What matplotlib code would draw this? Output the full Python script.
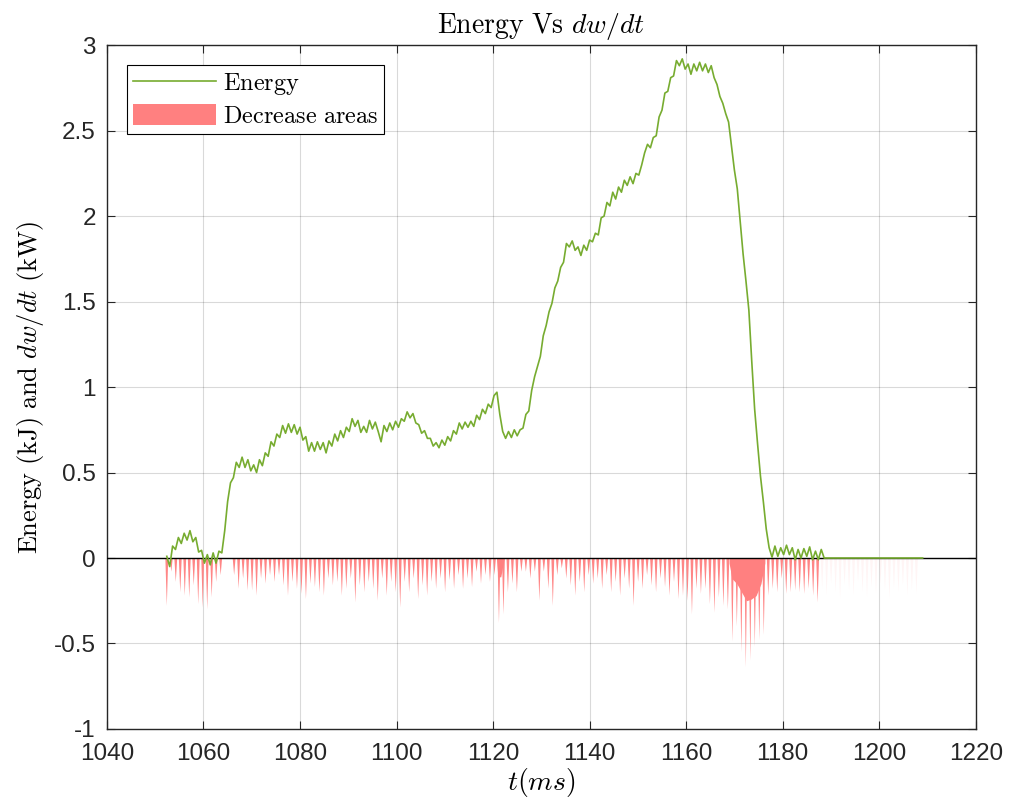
import numpy as np
import matplotlib
matplotlib.use("Agg")
import matplotlib.pyplot as plt
from matplotlib.patches import Patch
from matplotlib.lines import Line2D

# ---- energy trace (kJ), sampled every 0.6 ms from 1052.4 ms ----
energy_t0 = 1052.4
energy_dt = 0.6
energy = [
    0.01, -0.05, 0.07, 0.05, 0.12, 0.085, 0.145, 0.105, 0.16, 0.095,
    0.12, 0.035, 0.045, -0.03, 0.02, -0.04, 0.03, -0.03, 0.04, 0.03,
    0.16, 0.33, 0.44, 0.47, 0.56, 0.53, 0.59, 0.53, 0.575, 0.51,
    0.545, 0.50, 0.575, 0.54, 0.615, 0.595, 0.68, 0.655, 0.725, 0.705,
    0.775, 0.73, 0.785, 0.735, 0.78, 0.725, 0.765, 0.69, 0.71, 0.625,
    0.675, 0.625, 0.68, 0.635, 0.675, 0.615, 0.685, 0.655, 0.725, 0.685,
    0.745, 0.705, 0.765, 0.74, 0.815, 0.77, 0.805, 0.735, 0.77, 0.735,
    0.805, 0.755, 0.795, 0.74, 0.68, 0.775, 0.74, 0.79, 0.75, 0.80,
    0.765, 0.815, 0.80, 0.855, 0.82, 0.845, 0.79, 0.78, 0.73, 0.745,
    0.70, 0.70, 0.655, 0.675, 0.645, 0.69, 0.66, 0.71, 0.685, 0.745,
    0.725, 0.79, 0.755, 0.795, 0.765, 0.80, 0.77, 0.835, 0.81, 0.87,
    0.845, 0.90, 0.88, 0.95, 0.97, 0.84, 0.74, 0.70, 0.74, 0.705,
    0.75, 0.715, 0.75, 0.76, 0.84, 0.86, 0.98, 1.06, 1.12, 1.18,
    1.30, 1.36, 1.44, 1.49, 1.58, 1.62, 1.70, 1.73, 1.84, 1.82,
    1.855, 1.80, 1.82, 1.77, 1.83, 1.80, 1.86, 1.85, 1.90, 1.89,
    1.99, 2.00, 2.08, 2.06, 2.14, 2.10, 2.17, 2.14, 2.21, 2.18,
    2.23, 2.19, 2.25, 2.24, 2.30, 2.37, 2.42, 2.40, 2.46, 2.47,
    2.58, 2.62, 2.72, 2.73, 2.81, 2.82, 2.91, 2.88, 2.92, 2.86,
    2.89, 2.83, 2.89, 2.85, 2.90, 2.85, 2.89, 2.84, 2.88, 2.81,
    2.77, 2.70, 2.66, 2.60, 2.55, 2.41, 2.27, 2.16, 1.97, 1.78,
    1.62, 1.45, 1.15, 0.87, 0.67, 0.48, 0.33, 0.17, 0.06, 0.005,
    0.07, 0.01, 0.06, 0.02, 0.075, 0.02, 0.06, -0.01, 0.05, 0.00,
    0.055, 0.01, 0.065, -0.01, 0.04, -0.01, 0.05,
]
# flat tail after the energy has died out
tail_t = [1188.6, 1209.0]
tail_e = [0.0, 0.0]

# ---- negative dw/dt spikes (kW), one every 0.93 ms from 1052.4 ms ----
spike_t0 = 1052.4
spike_dt = 0.93
spike_depth = [
    -0.28, -0.08, -0.14, -0.20, -0.22, -0.23, -0.16, -0.27, -0.29, -0.30,
    -0.23, -0.14, -0.10, 0.0, 0.0, -0.10, -0.18, -0.12, -0.19, -0.19,
    -0.22, -0.12, -0.15, -0.10, -0.14, -0.10, -0.16, -0.22, -0.14, -0.18,
    -0.21, -0.24, -0.15, -0.17, -0.20, -0.22, -0.12, -0.16, -0.14, -0.22,
    -0.18, -0.12, -0.26, -0.16, -0.20, -0.14, -0.18, -0.25, -0.12, -0.22,
    -0.14, -0.20, -0.29, -0.14, -0.20, -0.12, -0.24, -0.16, -0.22, -0.14,
    -0.18, -0.12, -0.20, -0.13, -0.18, -0.10, -0.18, -0.12, -0.17, -0.08,
    -0.15, -0.10, -0.14, -0.10, -0.38, -0.33, -0.20, -0.15, -0.20, -0.08,
    -0.08, -0.12, -0.08, -0.25, -0.08, -0.18, -0.28, -0.10, -0.06, -0.12,
    -0.16, -0.22, -0.14, -0.20, -0.10, -0.15, -0.12, -0.18, -0.10, -0.20,
    -0.14, -0.22, -0.12, -0.18, -0.28, -0.14, -0.18, -0.10, -0.16, -0.20,
    -0.12, -0.17, -0.22, -0.14, -0.24, -0.22, -0.25, -0.33, -0.18, -0.21,
    -0.18, -0.27, -0.32, -0.23, -0.28, -0.30, -0.49, -0.40, -0.55, -0.64,
    -0.60, -0.52, -0.48, -0.45, -0.22, -0.18, -0.20, -0.12, -0.21, -0.20,
    -0.19, -0.20, -0.21, -0.18, -0.22, -0.26,
]
# residual spikes once the trace has settled (barely visible)
faint_depth = [
    -0.18, -0.22, -0.15, -0.20, -0.24, -0.16, -0.19, -0.22, -0.14, -0.20,
    -0.23, -0.17, -0.21, -0.15, -0.19, -0.24, -0.18, -0.20, -0.16, -0.22,
    -0.19, -0.21,
]
# sustained decrease during the collapse and the drop after 1120 ms
broad_t = [1168.9, 1169.5, 1170.5, 1171.5, 1172.5, 1173.5, 1174.5, 1175.5, 1176.3]
broad_v = [-0.03, -0.12, -0.15, -0.20, -0.25, -0.24, -0.22, -0.15, -0.03]
drop_t = [1120.7, 1121.0, 1121.6, 1122.3]
drop_v = [0.0, -0.11, -0.11, 0.0]

GREEN = "#77AC30"
RED = "#FF8080"
INK = "#262626"

plt.rcParams["mathtext.fontset"] = "cm"
plt.rcParams["font.family"] = ["Liberation Sans", "DejaVu Sans"]
plt.rcParams["axes.unicode_minus"] = False

fig = plt.figure(figsize=(10.09, 8.07), dpi=100)
ax = fig.add_axes([0.106, 0.0967, 0.861, 0.8473])

# decrease areas
half_w = 0.3
n_main = len(spike_depth)
for j, d in enumerate(spike_depth):
    if d == 0.0:
        continue
    tc = spike_t0 + spike_dt * j
    ax.fill([tc - half_w, tc, tc + half_w], [0, d, 0], color=RED, lw=0, alpha=0.95)
for j, d in enumerate(faint_depth):
    tc = spike_t0 + spike_dt * (n_main + j)
    ax.fill([tc - half_w, tc, tc + half_w], [0, d, 0], color=RED, lw=0, alpha=0.08)
ax.fill_between(broad_t, broad_v, 0, color=RED, lw=0)
ax.fill_between(drop_t, drop_v, 0, color=RED, lw=0)

ax.axhline(0, color="black", lw=1.0, zorder=3)

t_energy = energy_t0 + energy_dt * np.arange(len(energy))
ax.plot(np.concatenate([t_energy, tail_t]), np.concatenate([energy, tail_e]),
        color=GREEN, lw=1.2, zorder=4)

ax.set_xlim(1040, 1220)
ax.set_ylim(-1, 3)
ax.set_xticks(np.arange(1040, 1221, 20))
ax.set_yticks([-1, -0.5, 0, 0.5, 1, 1.5, 2, 2.5, 3])
ax.set_yticklabels(["-1", "-0.5", "0", "0.5", "1", "1.5", "2", "2.5", "3"])
ax.grid(True, color="#000000", alpha=0.15, lw=0.8)
ax.set_axisbelow(True)
ax.tick_params(direction="in", length=6, width=0.8, labelsize=17.5,
               top=True, right=True, colors=INK)
ax.tick_params(axis="x", pad=10)
ax.tick_params(axis="y", pad=8)
for s in ax.spines.values():
    s.set_color(INK)
    s.set_linewidth(1.0)

ax.set_title(r"$\mathrm{Energy\ Vs}\ dw/dt$", fontsize=20, pad=9)
ax.set_xlabel(r"$t(ms)$", fontsize=20, labelpad=1)
ax.set_ylabel(r"$\mathrm{Energy\ (kJ)\ and}\ dw/dt\ \mathrm{(kW)}$", fontsize=19, labelpad=6)

handles = [Line2D([], [], color=GREEN, lw=1.2),
           Patch(facecolor=RED, edgecolor="none")]
labels = [r"$\mathrm{Energy}$", r"$\mathrm{Decrease\ areas}$"]
leg = ax.legend(handles, labels, loc="upper left", bbox_to_anchor=(0.023, 0.971),
                borderaxespad=0, fontsize=17.5, handlelength=3.4, handleheight=0.95,
                borderpad=0.25, labelspacing=0.3, handletextpad=0.3,
                fancybox=False, framealpha=1)
leg.get_frame().set_edgecolor("black")
leg.get_frame().set_linewidth(0.8)

fig.savefig("out.png", dpi=100)
